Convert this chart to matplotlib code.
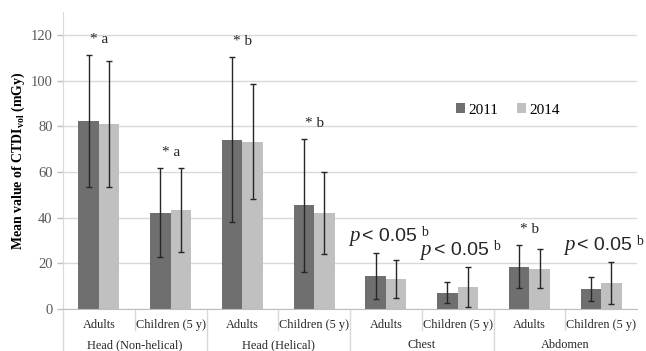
import numpy as np
import matplotlib.pyplot as plt
import matplotlib.transforms as mtransforms

### Mean CTDIvol by exam type, 2011 vs 2014 survey

plt.rcParams['font.family'] = 'Liberation Serif'
plt.rcParams['mathtext.fontset'] = 'custom'
plt.rcParams['mathtext.rm'] = 'Liberation Serif'
plt.rcParams['mathtext.it'] = 'Liberation Serif:italic'
plt.rcParams['mathtext.bf'] = 'Liberation Serif:bold'

groups = ['Head (Non-helical)', 'Head (Helical)', 'Chest', 'Abdomen']
categories = ['Adults', 'Children (5 y)'] * 4

mean_2011 = [82.2, 42.2, 74.1, 45.4, 14.4, 7.1, 18.6, 8.7]
sd_2011 = [29.0, 19.5, 36.2, 29.0, 10.0, 4.6, 9.5, 5.2]
mean_2014 = [80.9, 43.3, 73.3, 42.0, 13.1, 9.5, 17.7, 11.3]
sd_2014 = [27.7, 18.5, 25.0, 18.0, 8.5, 8.8, 8.4, 9.3]

# significance marks above each pair
marks = ['* a', '* a', '* b', '* b', 'p', 'p', '* b', 'p']

dark = '#6f6f6f'
light = '#c0c0c0'

fig = plt.figure(figsize=(6.46, 3.51), dpi=100)
ax = fig.add_axes([63/646, 42/351, 574/646, 297/351])

x = np.arange(len(categories)) + 0.5
w = 0.285
ekw = dict(ecolor='#262626', elinewidth=1.0, capsize=2.5, capthick=1.0)
ax.bar(x - w/2, mean_2011, w, color=dark, yerr=sd_2011, error_kw=ekw, label='2011', zorder=2)
ax.bar(x + w/2, mean_2014, w, color=light, yerr=sd_2014, error_kw=ekw, label='2014', zorder=2)

ax.set_xlim(0, len(categories))
ax.set_ylim(0, 130)
ax.set_yticks(np.arange(0, 121, 20))
ax.yaxis.grid(True, color='#d9d9d9', linewidth=1.0, zorder=0)
ax.set_axisbelow(True)
ax.tick_params(axis='y', colors='#bfbfbf', length=4, width=1, labelcolor='#595959', labelsize=10.5)
ax.tick_params(axis='x', length=0, pad=7, labelsize=8.8, labelcolor='#262626')
ax.set_xticks(x)
ax.set_xticklabels(categories)

for s in ['top', 'right']:
    ax.spines[s].set_visible(False)
ax.spines['left'].set_color('#d9d9d9')
ax.spines['bottom'].set_color('#bfbfbf')

# two level x axis: separators and group names
trans = mtransforms.blended_transform_factory(ax.transData, ax.transAxes)
for b in range(len(categories)):
    bottom = -0.15 if b % 2 == 0 else -0.072
    ax.plot([b, b], [0, bottom], color='#d9d9d9', linewidth=1.0, transform=trans, clip_on=False)
for i, g in enumerate(groups):
    ax.text(2*i + 1, -0.122, g, transform=trans, ha='center', va='center', fontsize=8.8, color='#262626')

ax.set_ylabel(r'Mean value of CTDI$_{\mathbf{vol}}$ (mGy)', fontsize=10, fontweight='bold', labelpad=3)

# annotations above the taller error bar
for xi, m, a, sa, b, sb in zip(x, marks, mean_2011, sd_2011, mean_2014, sd_2014):
    top = max(a + sa, b + sb)
    if m == 'p':
        t = ax.annotate('< 0.05', xy=(xi + 0.05, top), xytext=(0, 12), textcoords='offset points',
                        ha='center', va='center', fontsize=14, family='Liberation Sans', color='#262626')
        ax.annotate('p', xy=(0, 0.5), xycoords=t, xytext=(-2, 0), textcoords='offset points',
                    ha='right', va='center', fontsize=15, style='italic', color='#262626')
        ax.annotate('b', xy=(1, 0.72), xycoords=t, xytext=(3, 0), textcoords='offset points',
                    ha='left', va='center', fontsize=10, color='#262626')
    else:
        ax.annotate(m, xy=(xi, top), xytext=(0, 11), textcoords='offset points',
                    ha='center', va='center', fontsize=11, color='#262626')

leg = ax.legend(loc='center', bbox_to_anchor=(0.775, 0.67), ncol=2, frameon=False,
                fontsize=11, handlelength=0.6, handleheight=0.6, handletextpad=0.2, columnspacing=1.2)

fig.savefig('out.png', dpi=100)
